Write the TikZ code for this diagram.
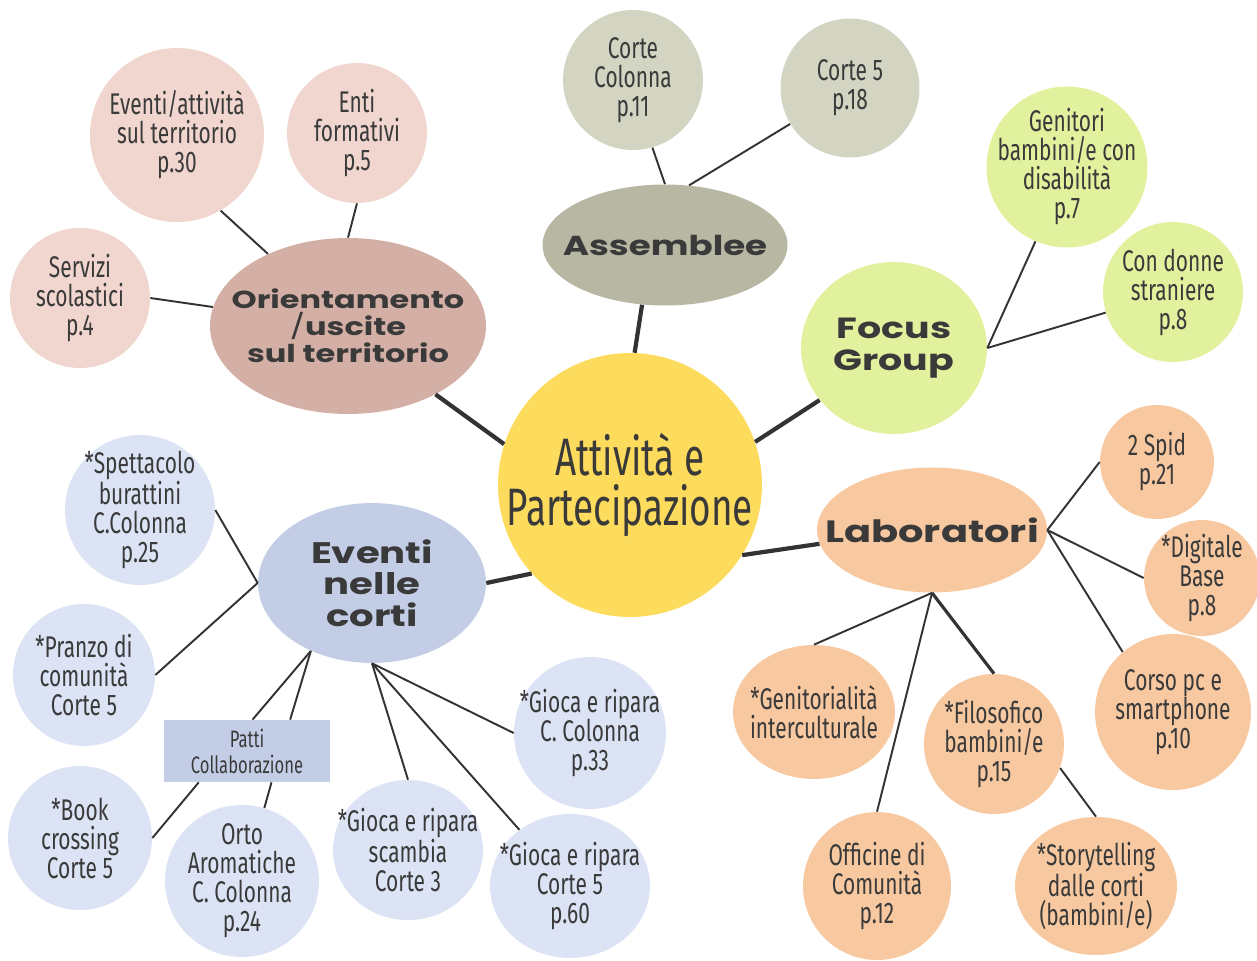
\documentclass[tikz,border=0pt]{standalone}
\usepackage{fontspec}
\setmainfont{Fira Sans}[FakeStretch=0.7]
\newfontfamily\headfont{Poppins}[FakeStretch=1.3]
\usetikzlibrary{shapes.geometric}

\definecolor{ink}{HTML}{3A3A3A}
\definecolor{wire}{HTML}{333333}
\definecolor{sun}{HTML}{FDDB5C}
\definecolor{rose}{HTML}{D3AFA5}
\definecolor{roselight}{HTML}{F0D6CE}
\definecolor{stone}{HTML}{B8B7A3}
\definecolor{stonelight}{HTML}{D3D4C2}
\definecolor{lime}{HTML}{E1F19E}
\definecolor{peach}{HTML}{F8C9A0}
\definecolor{sky}{HTML}{C3CEE6}
\definecolor{skylight}{HTML}{DCE3F4}

\newcommand{\headsize}[2]{\headfont\bfseries\fontsize{#1}{#2}\selectfont}

\begin{document}
\begin{tikzpicture}[
	x=0.02cm,
	y=-0.02cm,
	core/.style={
		circle,
		fill=sun,
		inner sep=-40pt,
		align=center,
		text=ink,
		minimum size=5.28cm,
		font=\fontsize{30}{29}\selectfont
	},
	hub/.style={
		ellipse,
		inner sep=-40pt,
		align=center,
		text=ink
	},
	leaf/.style={
		ellipse,
		inner sep=-40pt,
		align=center,
		text=ink,
		font=\fontsize{17}{16.5}\selectfont
	},
	link/.style={
		draw=wire,
		line width=1.1pt
	},
	mainlink/.style={
		draw=wire,
		line width=2.4pt
	},
]
\useasboundingbox (0,0) rectangle (1257,960);

\node[core] (centre) at (630,485) {Attività e\\Partecipazione};

\node[hub, fill=rose, minimum width=5.52cm, minimum height=3.52cm, font=\headsize{14}{15.3}] (orient) at (348,326) {Orientamento\\{\headfont\mdseries/}uscite\\sul territorio};
\node[leaf, fill=roselight, minimum width=3.48cm, minimum height=3.48cm] (evatt) at (177,135) {Eventi/attività\\sul territorio\\p.30};
\node[leaf, fill=roselight, minimum width=2.8cm, minimum height=2.8cm] (enti) at (357,133) {Enti\\formativi\\p.5};
\node[leaf, fill=roselight, minimum width=2.8cm, minimum height=2.8cm] (servizi) at (80,298) {Servizi\\scolastici\\p.4};

\node[hub, fill=stone, minimum width=4.9cm, minimum height=2.42cm, font=\headsize{15.6}{18}] (assem) at (665,245) {Assemblee};
\node[leaf, fill=stonelight, minimum width=2.8cm, minimum height=2.8cm] (corcol) at (633,80) {Corte\\Colonna\\p.11};
\node[leaf, fill=stonelight, minimum width=2.78cm, minimum height=2.78cm] (corte5) at (850,88) {Corte 5\\p.18};

\node[hub, fill=lime, minimum width=3.72cm, minimum height=3.44cm, font=\headsize{16.6}{18}] (focus) at (894,348) {Focus\\Group};
\node[leaf, fill=lime, minimum width=3.22cm, minimum height=3.22cm] (genit) at (1067,167) {Genitori\\bambini/e con\\disabilità\\p.7};
\node[leaf, fill=lime, minimum width=2.8cm, minimum height=2.8cm] (donne) at (1173,292) {Con donne\\straniere\\p.8};

\node[hub, fill=peach, minimum width=4.6cm, minimum height=2.5cm, font=\headsize{17.5}{18}] (lab) at (932,530) {Laboratori};
\node[leaf, fill=peach, minimum width=2.28cm, minimum height=2.28cm] (spid) at (1157,462) {2 Spid\\p.21};
\node[leaf, fill=peach, minimum width=2.32cm, minimum height=2.32cm] (digi) at (1202,578) {*Digitale\\Base\\p.8};
\node[leaf, fill=peach, minimum width=3.12cm, minimum height=3.12cm] (corso) at (1173,712) {Corso pc e\\smartphone\\p.10};
\node[leaf, fill=peach, minimum width=3.24cm, minimum height=2.68cm] (geni) at (814,712) {*Genitorialità\\interculturale};
\node[leaf, fill=peach, minimum width=2.96cm, minimum height=2.96cm] (offi) at (877,886) {Officine di\\Comunità\\p.12};
\node[leaf, fill=peach, minimum width=2.8cm, minimum height=2.8cm] (filo) at (994,744) {*Filosofico\\bambini/e\\p.15};
\node[leaf, fill=peach, minimum width=3.24cm, minimum height=2.76cm] (story) at (1096,886) {*Storytelling\\dalle corti\\(bambini/e)};

\node[hub, fill=sky, minimum width=4.56cm, minimum height=3.2cm, font=\headsize{16.9}{18}] (eventi) at (372,583) {Eventi\\nelle\\corti};
\node[leaf, fill=skylight, minimum width=3cm, minimum height=3cm] (spett) at (140,510) {*Spettacolo\\burattini\\C.Colonna\\p.25};
\node[leaf, fill=skylight, minimum width=2.84cm, minimum height=2.84cm] (pranzo) at (84,675) {*Pranzo di\\comunità\\Corte 5};
\node[leaf, fill=skylight, minimum width=2.88cm, minimum height=2.88cm] (book) at (80,838) {*Book\\crossing\\Corte 5};
\node[leaf, fill=skylight, minimum width=3.08cm, minimum height=3.04cm] (orto) at (242,881) {Orto\\Aromatiche\\C. Colonna\\p.24};
\node[leaf, fill=skylight, minimum width=3cm, minimum height=2.8cm] (scambia) at (408,850) {*Gioca e ripara\\scambia\\Corte 3};
\node[leaf, fill=skylight, minimum width=3.2cm, minimum height=2.88cm] (gc5) at (570,886) {*Gioca e ripara\\Corte 5\\p.60};
\node[leaf, fill=skylight, minimum width=3.04cm, minimum height=3.04cm] (gccol) at (590,733) {*Gioca e ripara\\C. Colonna\\p.33};
\node[rectangle, fill=sky, inner sep=0pt, align=center, text=ink, minimum width=3.32cm, minimum height=1.24cm, font=\fontsize{13.5}{14.7}\selectfont] (patti) at (247,751) {Patti\\Collaborazione};

\draw[mainlink] (centre.162) -- (orient.-38);
\draw[mainlink] (centre.88) -- (assem.-111);
\draw[mainlink] (centre.19) -- (focus.215);
\draw[mainlink] (centre.-32) -- (lab.187);
\draw[mainlink] (centre.222) -- (eventi.east);

\draw[link] (evatt.-60) -- (orient.138);
\draw[link] (enti.south) -- (orient.north);
\draw[link] (servizi.east) -- (orient.172);

\draw[link] (corcol.-74) -- (assem.north);
\draw[link] (corte5.211) -- (assem.68);

\draw[link] (focus.east) -- (genit.247);
\draw[link] (focus.east) -- (donne.197);

\draw[link] (lab.east) -- (spid.west);
\draw[link] (lab.east) -- (digi.west);
\draw[link] (lab.east) -- (corso.130);
\draw[link] (lab.south) -- (geni.north);
\draw[link] (lab.south) -- (offi.north);
\draw[link, line width=1.8pt] (lab.south) -- (filo.north);
\draw[link] (filo.-20) -- (story.north);

\draw[link] (spett.east) -- (eventi.west);
\draw[link] (pranzo.east) -- (eventi.west);
\draw[link] (eventi.228) -- (patti.80);
\draw[link] (eventi.228) -- (patti.36);
\draw[link] (patti.213) -- (book.east);
\draw[link] (patti.-52) -- (orto.73);
\draw[link] (eventi.south) -- (scambia.north);
\draw[link] (eventi.south) -- (gc5.132);
\draw[link] (eventi.south) -- (gccol.west);

\end{tikzpicture}
\end{document}
